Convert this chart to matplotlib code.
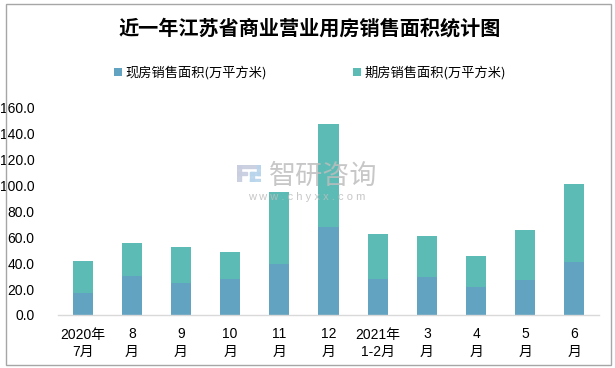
import matplotlib.pyplot as plt
import numpy as np

plt.rcParams['font.family'] = ['Liberation Sans', 'Noto Sans CJK SC', 'DejaVu Sans']

# Data
months = ['2020年\n7月', '8\n月', '9\n月', '10\n月', '11\n月', '12\n月',
          '2021年\n1-2月', '3\n月', '4\n月', '5\n月', '6\n月']
spot = [16.9, 30.3, 24.9, 27.7, 39.6, 68.1, 27.7, 29.3, 21.6, 27.0, 40.8]
totals = [41.6, 55.5, 52.4, 48.5, 95.0, 147.2, 62.4, 60.9, 45.5, 65.5, 101.0]
futures = [t - s for t, s in zip(totals, spot)]
yticks = [0, 20, 40, 60, 80, 100, 120, 140, 160]

c_spot = '#62A3C1'
c_fut = '#5CBCB5'

fig = plt.figure(figsize=(6.15, 3.68), dpi=100)
ax = fig.add_axes([58 / 615, 53 / 368, 541 / 615, 207.7 / 368])

x = np.arange(len(months))
ax.bar(x, spot, width=0.41, color=c_spot, label='现房销售面积(万平方米)', zorder=2)
ax.bar(x, futures, width=0.41, bottom=spot, color=c_fut, label='期房销售面积(万平方米)', zorder=2)

ax.set_xlim(-0.5, len(months) - 0.5)
ax.set_ylim(0, 160)
ax.set_yticks(yticks)
ax.set_yticklabels([f'{v:.1f}' for v in yticks], fontsize=10)
ax.set_xticks(x)
ax.set_xticklabels(months, fontsize=10, linespacing=1.3)
ax.tick_params(axis='both', length=0)
ax.tick_params(axis='y', pad=17)
ax.tick_params(axis='x', pad=9)
for s in ['top', 'right', 'left']:
    ax.spines[s].set_visible(False)
ax.spines['bottom'].set_color('#d9d9d9')
ax.spines['bottom'].set_linewidth(1.0)

# Title
fig.text(310 / 615, 1 - 28 / 368, '近一年江苏省商业营业用房销售面积统计图',
         ha='center', va='center', fontsize=14.5, fontweight='bold',
         family=['Noto Sans CJK SC'])

# Legend
fig.legend(loc='center', bbox_to_anchor=(310 / 615, 1 - 73 / 368), ncol=2,
           frameon=False, handlelength=0.6, handleheight=0.6,
           handletextpad=0.3, columnspacing=6.5,
           prop={'family': ['Noto Sans CJK SC'], 'size': 9.5})

# Watermark
fig.text(323 / 615, 1 - 176 / 368, '智研咨询', ha='center', va='center',
         fontsize=19.5, color='#bdbdbd', family=['Noto Sans CJK SC'], alpha=0.85)
fig.text(307 / 615, 1 - 197 / 368, 'w w w . c h y x x . c o m', ha='center', va='center',
         fontsize=8, color='#bdbdbd', alpha=0.85)
ax_logo = fig.add_axes([237 / 615, 1 - 182 / 368, 24 / 615, 17 / 368])
logo_gray = '#c8cee0'
logo_blue = '#b9d5ec'
for (lx, ly, lw, lh, lc) in [(0, 0.82, 1, 0.18, logo_gray), (0, 0, 0.16, 1, logo_gray),
                             (0, 0.44, 0.42, 0.16, logo_gray),
                             (0.84, 0.44, 0.16, 0.56, logo_blue), (0.56, 0.44, 0.44, 0.16, logo_blue),
                             (0.56, 0, 0.16, 0.6, logo_blue), (0.56, 0, 0.44, 0.16, logo_blue)]:
    ax_logo.add_patch(plt.Rectangle((lx, ly), lw, lh, color=lc, alpha=0.9))
ax_logo.set_xlim(0, 1)
ax_logo.set_ylim(0, 1)
ax_logo.axis('off')

# Border
fig.add_artist(plt.Rectangle((6 / 615, 3 / 368), 605 / 615, 361 / 368, fill=False,
                             edgecolor='#a6a6a6', linewidth=1.0, transform=fig.transFigure))

fig.savefig('out.png', dpi=100)
